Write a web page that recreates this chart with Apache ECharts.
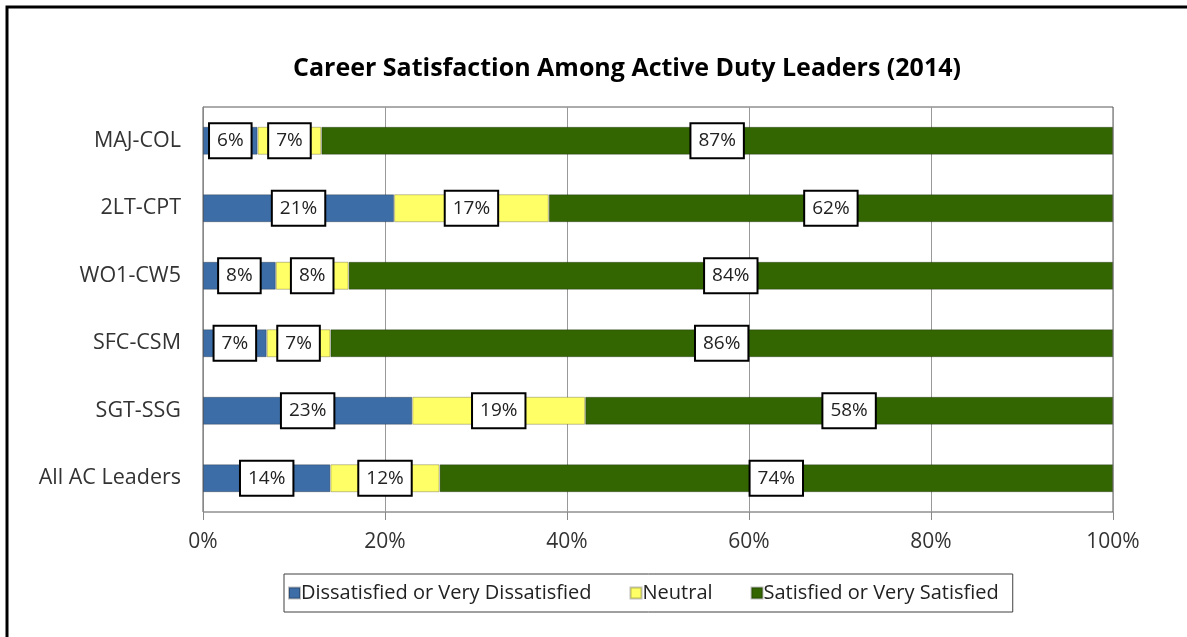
<!DOCTYPE html>
<html>
<head>
<meta charset="utf-8">
<script src="https://cdn.jsdelivr.net/npm/echarts@6/dist/echarts.min.js"></script>
<style>
html, body { margin: 0; padding: 0; background: #fff; }
#chart { width: 1187px; height: 637px; }
</style>
</head>
<body>
<div id="chart"></div>
<script>
// 각 계급별 경력 만족도 (%)
var categories = ['MAJ-COL', '2LT-CPT', 'WO1-CW5', 'SFC-CSM', 'SGT-SSG', 'All AC Leaders'];
var dissatisfied = [6, 21, 8, 7, 23, 14];
var neutral = [7, 17, 8, 7, 19, 12];
var satisfied = [87, 62, 84, 86, 58, 74];
var seriesNames = ['Dissatisfied or Very Dissatisfied', 'Neutral', 'Satisfied or Very Satisfied'];
var xTicks = [0, 20, 40, 60, 80, 100];

var font = '"Open Sans", "Noto Sans", sans-serif';
var dom = document.getElementById('chart');
var myChart = echarts.init(dom);

var boxLabel = {
    show: true,
    position: 'inside',
    formatter: '{c}%',
    color: '#222',
    fontFamily: font,
    fontSize: 19,
    lineHeight: 22,
    backgroundColor: '#fff',
    borderColor: '#000',
    borderWidth: 2,
    padding: [6, 7, 5, 7]
};

function makeSeries(name, data, color) {
    return {
        name: name,
        type: 'bar',
        stack: 'total',
        barWidth: 28,
        data: data,
        itemStyle: { color: color, borderColor: 'rgba(0,0,0,0.25)', borderWidth: 1 },
        label: boxLabel,
        emphasis: { disabled: true }
    };
}

var option = {
    animation: false,
    backgroundColor: '#fff',
    title: {
        text: 'Career Satisfaction Among Active Duty Leaders (2014)',
        left: 622,
        textAlign: 'center',
        top: 51,
        textStyle: { fontFamily: font, fontSize: 25, fontWeight: 'bold', color: '#000' }
    },
    legend: {
        data: seriesNames,
        left: 284,
        top: 574,
        padding: [9, 14, 9, 4],
        borderColor: '#404040',
        borderWidth: 1,
        icon: 'rect',
        itemWidth: 11,
        itemHeight: 11,
        itemGap: 38,
        textStyle: { fontFamily: font, fontSize: 20, color: '#222', padding: [0, 0, 0, -4] }
    },
    grid: { left: 203, right: 74, top: 107, bottom: 125, show: true, borderColor: '#595959', borderWidth: 1 },
    xAxis: {
        type: 'value',
        min: 0,
        max: 100,
        interval: 20,
        axisLine: { show: false },
        axisTick: { show: true, length: 8, inside: false, lineStyle: { color: '#888' } },
        splitLine: { show: true, lineStyle: { color: '#999', width: 1 } },
        axisLabel: {
            margin: 20,
            fontFamily: font,
            fontSize: 21,
            color: '#333',
            formatter: function (v) { return xTicks.indexOf(v) >= 0 ? v + '%' : ''; }
        }
    },
    yAxis: {
        type: 'category',
        inverse: true,
        data: categories,
        axisLine: { show: true, lineStyle: { color: '#888' } },
        axisTick: { show: true, alignWithLabel: false, length: 0 },
        axisLabel: { margin: 22, fontFamily: font, fontSize: 21.5, color: '#333' }
    },
    graphic: [
        {
            type: 'rect',
            shape: { x: 7, y: 7, width: 1300, height: 800 },
            style: { fill: 'none', stroke: '#000', lineWidth: 3 },
            silent: true
        }
    ],
    series: [
        makeSeries(seriesNames[0], dissatisfied, '#3d6da6'),
        makeSeries(seriesNames[1], neutral, '#ffff66'),
        makeSeries(seriesNames[2], satisfied, '#336600')
    ]
};

if (option && typeof option === 'object') {
    myChart.setOption(option, true);
}
</script>
</body>
</html>
